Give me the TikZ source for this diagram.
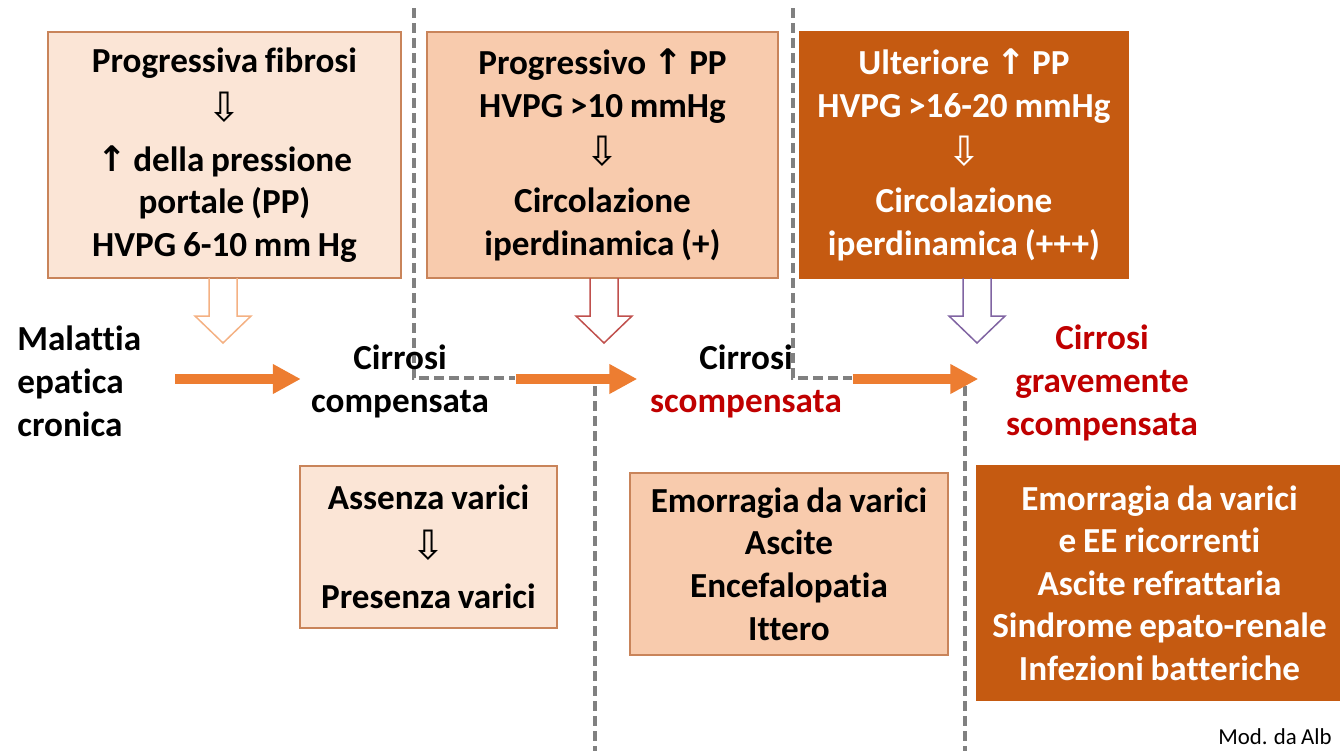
\documentclass[tikz,border=0pt]{standalone}
\usepackage{fontspec}
\setmainfont{Carlito}[Ligatures=NoCommon, WordSpace=0.85]
\newfontfamily\symfont{DejaVu Sans}
\usetikzlibrary{arrows.meta}

\definecolor{boxlight}{HTML}{FBE5D6}
\definecolor{boxmid}{HTML}{F8CBAD}
\definecolor{boxdark}{HTML}{C55A11}
\definecolor{boxline}{HTML}{C9845A}
\definecolor{flowor}{HTML}{ED7D31}
\definecolor{darkred}{HTML}{C00000}
\definecolor{sepgrey}{HTML}{808080}
\definecolor{hollowor}{HTML}{F4B183}
\definecolor{hollowred}{HTML}{C0504D}
\definecolor{hollowvio}{HTML}{8064A2}

\newcommand{\ppup}{{\symfont ↑}}
\newcommand{\thendown}{{\symfont\mdseries\fontsize{23}{24}\selectfont ⇩}}

\tikzset{
  stage/.style={draw=boxline, line width=0.6pt, align=center, inner sep=0pt,
                font=\bfseries\fontsize{20}{24.2}\selectfont},
  phase/.style={align=center, inner sep=0pt, font=\bfseries\fontsize{20}{24.4}\selectfont},
  flow/.style={draw=flowor, line width=2mm, -{Triangle[length=5.6mm,width=5.6mm]}},
  hollow/.style={draw=#1, line width=0.3mm, line join=miter},
  divider/.style={draw=sepgrey, line width=0.7mm, dash pattern=on 2mm off 1mm},
}

\begin{document}
\begin{tikzpicture}[x=0.2mm, y=-0.2mm]
    \useasboundingbox (0,0) rectangle (1340,751);

    % separators between the stages
    \draw[divider] (414,8) -- (414,378) -- (515,378);
    \draw[divider] (595,386) -- (595,751);
    \draw[divider] (793,8) -- (793,378) -- (852,378);
    \draw[divider] (965,386) -- (965,751);

    % upper boxes
    \node[stage, fill=boxlight, minimum width=70.6mm, minimum height=49.2mm] (fib) at (224.5,155)
        {Progressiva fibrosi\\[4pt] \thendown\\[4pt] \ppup{} della pressione\\ portale (PP)\\ HVPG 6-10 mm Hg};
    \node[stage, fill=boxmid, minimum width=70.2mm, minimum height=49.2mm] (ppa) at (602.5,155)
        {Progressivo \ppup{} PP\\ HVPG >10 mmHg\\[3pt] \thendown\\[3pt] Circolazione\\ iperdinamica (+)};
    \node[stage, fill=boxdark, draw=boxdark, text=white, minimum width=65.6mm, minimum height=49.2mm] (ppb) at (964,155)
        {Ulteriore \ppup{} PP\\ HVPG >16-20 mmHg\\[3pt] \thendown\\[3pt] Circolazione\\ iperdinamica (+++)};

    % hollow arrows below the upper boxes
    \draw[hollow=hollowor]  (209,278) -- ++(0,38) -- ++(-14,0) -- ++(28,27) -- ++(28,-27) -- ++(-14,0) -- ++(0,-38);
    \draw[hollow=hollowred] (590,278) -- ++(0,38) -- ++(-14,0) -- ++(28,27) -- ++(28,-27) -- ++(-14,0) -- ++(0,-38);
    \draw[hollow=hollowvio] (963,278) -- ++(0,38) -- ++(-14,0) -- ++(28,27) -- ++(28,-27) -- ++(-14,0) -- ++(0,-38);

    % stages of the disease
    \coordinate (row) at (0,379);
    \node[phase, align=left, anchor=west] (mal) at (17,381) {Malattia\\ epatica\\ cronica};
    \node[phase] (comp) at (400,381) {Cirrosi\\ compensata};
    \node[phase] (scomp) at (746,381) {Cirrosi\\ \textcolor{darkred}{scompensata}};
    \node[phase, text=darkred] (grav) at (1102,383) {Cirrosi\\ gravemente\\ scompensata};

    \draw[flow, shorten <=6.8mm, shorten >=2mm]   (mal.east |- row)   -- (comp.west |- row);
    \draw[flow, shorten <=5.4mm, shorten >=2.5mm] (comp.east |- row)  -- (scomp.west |- row);
    \draw[flow, shorten <=2.1mm, shorten >=5.5mm] (scomp.east |- row) -- (grav.west |- row);

    % lower boxes
    \node[stage, fill=boxlight, minimum width=51.4mm, minimum height=32.4mm] (var) at (428.5,547)
        {Assenza varici\\[4pt] \thendown\\[4pt] Presenza varici};
    \node[stage, fill=boxmid, minimum width=63.6mm, minimum height=36.4mm] (comp1) at (789,564)
        {Emorragia da varici\\ Ascite\\ Encefalopatia\\ Ittero};
    \node[stage, fill=boxdark, draw=boxdark, text=white, minimum width=73mm, minimum height=46.8mm] (comp2) at (1159.5,583)
        {Emorragia da varici\\ e EE ricorrenti\\ Ascite refrattaria\\ Sindrome epato-renale\\ Infezioni batteriche};

    \node[anchor=south west, inner sep=0pt, font=\fontsize{13}{15}\selectfont] (src) at (1218,745) {Mod. da Alb};
\end{tikzpicture}
\end{document}
